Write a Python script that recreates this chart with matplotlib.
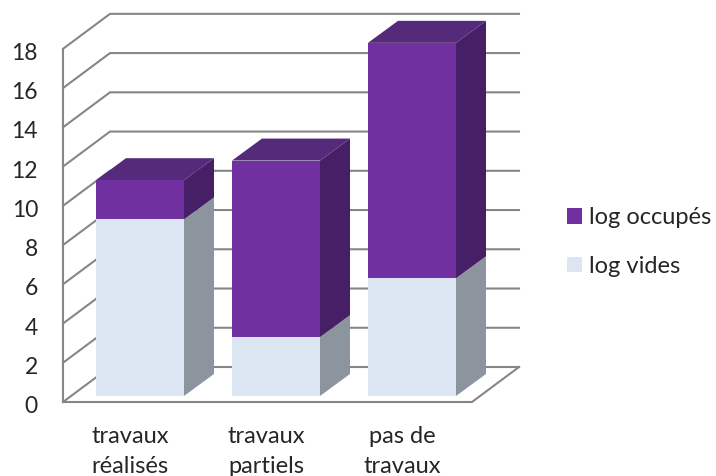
#!/usr/bin/env python3
import matplotlib
matplotlib.use("Agg")
from matplotlib import pyplot as plt
from matplotlib.patches import Polygon

categories = ["travaux\nréalisés", "travaux\npartiels", "pas de\ntravaux"]
log_vides = [9, 3, 6]
log_occupes = [2, 9, 12]
y_ticks = [0, 2, 4, 6, 8, 10, 12, 14, 16, 18]

plt.rcParams["font.family"] = ["Lato", "DejaVu Sans"]

W, H = 716, 476
PX_X = 136.0    # pixels per category
PX_Y = 19.62    # pixels per y unit
X0_PX = 140.0   # pixel of first category centre
Y0_PX = 396.0   # pixel of value 0 on the bar front plane

# bar depth and wall depth, in data units
BAR_DX, BAR_DY = 30 / PX_X, 22 / PX_Y
WALL_DX, WALL_DY = 47 / PX_X, 35 / PX_Y
BAR_W = 88 / PX_X
# front left corner of the floor
FX0, FY0 = (63 - X0_PX) / PX_X, (Y0_PX - 402) / PX_Y
FX1 = (472 - X0_PX) / PX_X

GRID = "#868686"
VIDE, VIDE_SIDE = "#dce6f2", "#8c959e"
OCC, OCC_SIDE, OCC_TOP = "#7030a0", "#471f66", "#552a7a"
TEXT = "#262626"

fig = plt.figure(figsize=(W / 100, H / 100), dpi=100)
ax = fig.add_axes([0, 0, 1, 1])
ax.set_xlim(-X0_PX / PX_X, (W - X0_PX) / PX_X)
ax.set_ylim((Y0_PX - H) / PX_Y, Y0_PX / PX_Y)
ax.axis("off")

# gridlines on side and back wall
for v in y_ticks:
    y = FY0 + v
    ax.plot([FX0, FX0 + WALL_DX, FX1 + WALL_DX],
            [y, y + WALL_DY, y + WALL_DY], color=GRID, lw=1.5, zorder=1,
            solid_joinstyle="miter")

# front axis line and floor edge
ax.plot([FX0, FX0], [FY0 + y_ticks[-1], FY0], color=GRID, lw=1.5, zorder=1)
ax.plot([FX0, FX1, FX1 + WALL_DX], [FY0, FY0, FY0 + WALL_DY],
        color=GRID, lw=1.5, zorder=1, solid_joinstyle="miter")

xs = list(range(len(categories)))
b1 = ax.bar(xs, log_vides, BAR_W, color=VIDE, zorder=3, label="log vides")
b2 = ax.bar(xs, log_occupes, BAR_W, bottom=log_vides, color=OCC, zorder=3,
            label="log occupés")

# 3d faces of the stacks
for i, (v, o) in enumerate(zip(log_vides, log_occupes)):
    right = i + BAR_W / 2
    left = i - BAR_W / 2
    top = v + o
    ax.add_patch(Polygon([(right, 0), (right + BAR_DX, BAR_DY),
                          (right + BAR_DX, v + BAR_DY), (right, v)],
                         closed=True, fc=VIDE_SIDE, ec="none", zorder=2))
    ax.add_patch(Polygon([(right, v), (right + BAR_DX, v + BAR_DY),
                          (right + BAR_DX, top + BAR_DY), (right, top)],
                         closed=True, fc=OCC_SIDE, ec="none", zorder=2))
    ax.add_patch(Polygon([(left, top), (left + BAR_DX, top + BAR_DY),
                          (right + BAR_DX, top + BAR_DY), (right, top)],
                         closed=True, fc=OCC_TOP, ec="none", zorder=2))

for v in y_ticks:
    ax.text(FX0 - 25 / PX_X, FY0 + v - 4.5 / PX_Y, str(v), ha="right",
            va="center", fontsize=16.5, color=TEXT)

for i, c in enumerate(categories):
    ax.text(i - 10 / PX_X, FY0 - 24 / PX_Y, c, ha="center", va="top",
            fontsize=17, color=TEXT, linespacing=1.53, clip_on=True)

ax.legend([b2, b1], ["log occupés", "log vides"], frameon=False,
          loc="center left", bbox_to_anchor=(560 / W, 1 - 242 / H),
          fontsize=17, labelcolor=TEXT, handlelength=0.64, handleheight=0.64,
          handletextpad=0.3, labelspacing=1.17, borderpad=0, borderaxespad=0.3)

fig.savefig("out.png", dpi=100)
